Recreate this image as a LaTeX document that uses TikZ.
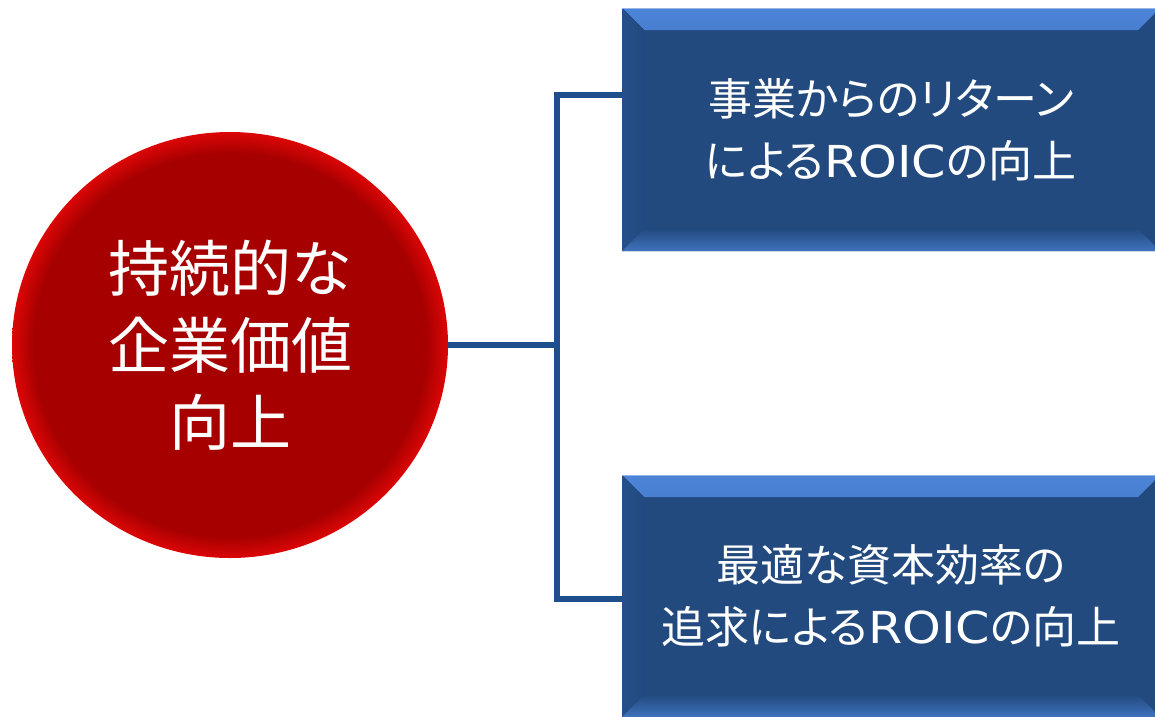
\documentclass[tikz,border=0pt]{standalone}
\usepackage{fontspec}
\setmainfont[RawFeature=+palt]{Noto Sans CJK JP}
\newfontfamily\latinw[FakeStretch=1.12]{DejaVu Sans}
\usetikzlibrary{shapes.geometric}
\definecolor{boxblue}{HTML}{224A7F}
\definecolor{bevtop}{HTML}{4C84D8}
\definecolor{bevmid}{HTML}{264F8A}
\definecolor{linecol}{HTML}{1F4E8C}
\definecolor{redin}{HTML}{A60000}
\definecolor{redout}{HTML}{DC0606}
\pgfdeclareradialshading{redball}{\pgfpoint{0bp}{0bp}}{color(0bp)=(redin); color(22.5bp)=(redin); color(25bp)=(redout); color(50bp)=(redout)}
\tikzset{
  bevelbox/.style={rectangle, fill=boxblue, minimum width=538pt, inner sep=0pt,
    text=white, align=center, font=\fontsize{44}{62}\selectfont,
    path picture={
      \fill[top color=bevtop, bottom color=boxblue]
        (path picture bounding box.north west) -- (path picture bounding box.north east)
        -- ++(-22pt,-22pt) -- ([shift={(22pt,-22pt)}]path picture bounding box.north west) -- cycle;
      \fill[left color=bevmid, right color=boxblue]
        (path picture bounding box.north west) -- ([shift={(22pt,-22pt)}]path picture bounding box.north west)
        -- ([shift={(22pt,22pt)}]path picture bounding box.south west) -- (path picture bounding box.south west) -- cycle;
      \fill[top color=boxblue, bottom color=bevtop!70!boxblue]
        (path picture bounding box.south west) -- ([shift={(22pt,22pt)}]path picture bounding box.south west)
        -- ([shift={(-22pt,22pt)}]path picture bounding box.south east) -- (path picture bounding box.south east) -- cycle;
      \draw[bevtop!60!white, line width=2pt] (path picture bounding box.north west) -- (path picture bounding box.north east);
    }},
  redcircle/.style={ellipse, minimum width=436pt, minimum height=426pt, inner sep=0pt,
    shading=redball, text=white, align=center, font=\fontsize{61}{77}\selectfont},
  conn/.style={draw=linecol, line width=5.5pt}
}
\begin{document}
\begin{tikzpicture}[x=1pt,y=-1pt]
\clip (0,0) rectangle (1155,716);
\fill[white] (0,0) rectangle (1155,716);
\node[redcircle] (c) at (230,345) {持続的な\\企業価値\\向上};
\node[bevelbox, minimum height=243pt] (b1) at (891,129.5) {事業からのリターン\\による{\latinw ROIC}の向上};
\node[bevelbox, minimum height=242pt] (b2) at (891,596) {最適な資本効率の\\追求による{\latinw ROIC}の向上};
\coordinate (t) at (557,95);
\coordinate (bt) at (557,599);
\draw[conn] (c.east) -- (c.east -| t);
\draw[conn, line join=miter] (b1.west |- t) -- (t) -- (bt) -- (b2.west |- bt);
\end{tikzpicture}
\end{document}
